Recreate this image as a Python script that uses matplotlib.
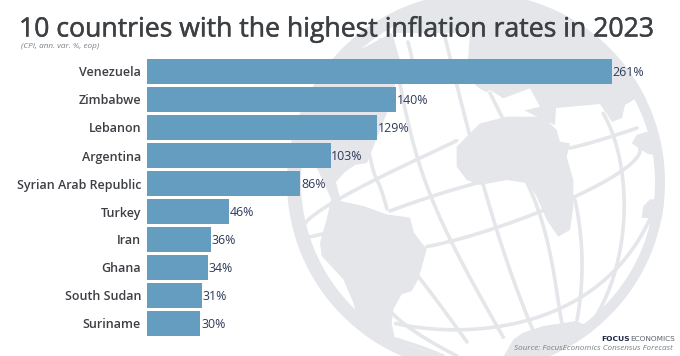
#!/usr/bin/env python3
"""10 countries with the highest inflation, globe behind the bars."""

import matplotlib

matplotlib.use("Agg")
import matplotlib.patheffects as pe
import matplotlib.pyplot as plt
import numpy as np
from matplotlib.patches import Circle, Polygon

countries = ["Venezuela", "Zimbabwe", "Lebanon", "Argentina", "Syrian Arab Republic",
             "Turkey", "Iran", "Ghana", "South Sudan", "Suriname"]
inflation = [261, 140, 129, 103, 86, 46, 36, 34, 31, 30]

W, H = 680, 356
GLOBE = "#e4e6ea"
BAR = "#659dc1"
FONT = "Open Sans"


def zoomed(points, x0, y0):
    return [(x0 + x / 3, y0 + y / 3) for x, y in points]


def smooth(points):
    pts = np.asarray(points, float)
    t = np.linspace(0, 1, len(pts))
    tt = np.linspace(0, 1, 60)
    deg = min(3, len(pts) - 1)
    return np.polyval(np.polyfit(t, pts[:, 0], deg), tt), np.polyval(np.polyfit(t, pts[:, 1], deg), tt)


# land outlines, image pixels
north = [(392, 33), (470, 33), (468, 60), (475, 85), (482, 90), (540, 118), (555, 125), (556, 108), (600, 104),
         (612, 122), (622, 118), (625, 105), (640, 96), (660, 110), (680, 60), (600, -10), (400, -10)]
med_sea = zoomed([(115, 330), (120, 290), (150, 270), (190, 295), (270, 265), (300, 320), (200, 345), (130, 355)], 440, 0)
north_am = [(340, 60), (392, 33), (400, 60), (392, 100), (380, 130), (367, 163), (355, 165), (345, 172),
            (336, 182), (341, 202), (333, 203), (318, 170), (300, 150), (310, 90)]
africa = zoomed([(530, 440), (600, 370), (680, 350), (790, 350), (830, 390), (840, 425), (870, 430),
                 (860, 470), (880, 540), (880, 620), (870, 690), (835, 710), (800, 660), (770, 590),
                 (745, 550), (680, 540), (600, 555), (560, 540), (530, 500)], 280, 0)
south_am = zoomed([(190, 40), (210, 75), (280, 90), (350, 115), (420, 125), (432, 170), (470, 220),
                   (445, 310), (425, 345), (395, 355), (370, 400), (365, 440), (375, 490), (420, 560),
                   (300, 560), (250, 380), (220, 310), (155, 240), (150, 200), (170, 130)], 270, 176)
antarctica = zoomed([(100, 490), (130, 470), (190, 450), (290, 435), (360, 470), (400, 560), (60, 560)], 480, 176)
se_asia = zoomed([(575, 430), (590, 405), (620, 395), (660, 420), (660, 470), (620, 460)], 440, 0)
australia = zoomed([(490, 90), (510, 70), (560, 70), (560, 130), (485, 125)], 480, 176)

# grid lines of the globe, image pixels
grid_lines = [
    [(305, 223), (330, 206), (377, 176), (420, 160), (457, 140)],
    [(570, 148), (600, 140), (637, 128)],
    [(305, 238), (327, 233)],
    [(390, 211), (433, 196), (477, 183)],
    [(427, 247), (493, 227), (567, 203), (620, 170), (640, 148)],
    [(393, 323), (437, 331), (487, 326), (510, 321), (580, 303), (623, 266), (647, 219)],
    [(392, 313), (417, 333), (457, 356)],
    [(395, 339), (420, 347), (443, 356)],
    [(352, 60), (370, 157), (377, 180), (387, 209)],
    [(418, 276), (443, 309), (467, 342)],
    [(395, 60), (407, 113), (417, 157), (423, 176), (450, 239), (470, 279), (503, 336)],
    [(442, 30), (465, 100), (478, 186), (503, 243), (523, 303), (547, 363)],
    [(527, 183), (547, 240), (557, 293), (563, 327)],
    [(575, 200), (582, 260), (577, 320)],
    [(603, 113), (617, 147), (623, 187), (624, 226), (613, 276), (600, 310), (573, 345)],
    [(490, 93), (502, 117)],
    [(380, 40), (375, 58)],
    [(408, 42), (412, 58)],
]

fig = plt.figure(figsize=(W / 100, H / 100), dpi=100, facecolor="white")

bg = fig.add_axes([0, 0, 1, 1])
bg.set_xlim(0, W)
bg.set_ylim(H, 0)
bg.axis("off")

clip = Circle((476, 182), 189, transform=bg.transData)
bg.add_patch(Circle((476, 182), 189, color=GLOBE, lw=0))
bg.add_patch(Circle((478, 182), 177, color="white", lw=0))
for land, colour in [(north, GLOBE), (med_sea, "white"), (north_am, GLOBE), (africa, GLOBE), (south_am, GLOBE),
                     (antarctica, GLOBE), (se_asia, GLOBE), (australia, GLOBE)]:
    patch = Polygon(land, closed=True, color=colour, lw=0)
    bg.add_patch(patch)
    patch.set_clip_path(clip)
for line in grid_lines:
    xs, ys = smooth(line)
    artist, = bg.plot(xs, ys, color=GLOBE, lw=2.6, solid_capstyle="round")
    artist.set_clip_path(clip)

# bars: left edge 147px, 465px for 261, ten rows of 28px from y=57.5
ax = fig.add_axes([147 / W, 1 - 337.5 / H, 465 / W, 280 / H])
ax.patch.set_alpha(0)
y = np.arange(len(countries))
ax.barh(y, inflation, height=25 / 28, color=BAR)
ax.set_xlim(0, max(inflation))
ax.set_ylim(len(countries) - 0.5, -0.5)
ax.set_yticks(y, countries, family=FONT, fontsize=9, fontweight="semibold", color="#3c3f44")
ax.tick_params(axis="y", length=0, pad=4.3)
ax.xaxis.set_visible(False)
for side in ax.spines.values():
    side.set_visible(False)
for yi, val in zip(y, inflation):
    ax.annotate(f"{val}%", (val, yi), xytext=(0.5, -0.5), textcoords="offset points", va="center",
                family=FONT, fontsize=8.9, color="#2f3a5a", annotation_clip=False)

title = bg.text(19, 36.5, "10 countries with the highest inflation rates in 2023", family=FONT, fontsize=19.15,
                color="#3d4043", va="baseline", zorder=5)
# the original sits between regular and semibold
title.set_path_effects([pe.withStroke(linewidth=0.35, foreground="#3d4043")])
bg.text(21, 48.5, "(CPI, ann. var. %, eop)", family=FONT, fontsize=5.9, style="italic", color="#7c7f83",
        va="baseline")
bg.text(630, 341, "FOCUS", family="Liberation Sans Narrow", fontsize=5.4, fontweight="bold", color="#1f2a44",
        ha="right", va="baseline")
bg.text(630, 341, "ECONOMICS", family="Liberation Sans Narrow", fontsize=5.3, color="#5a5f68", ha="left",
        va="baseline")
bg.text(673, 350, "Source: FocusEconomics Consensus Forecast", family=FONT, fontsize=5.9, style="italic",
        color="#7c7f83", ha="right", va="baseline")

fig.savefig("out.png", dpi=100)
plt.close(fig)
